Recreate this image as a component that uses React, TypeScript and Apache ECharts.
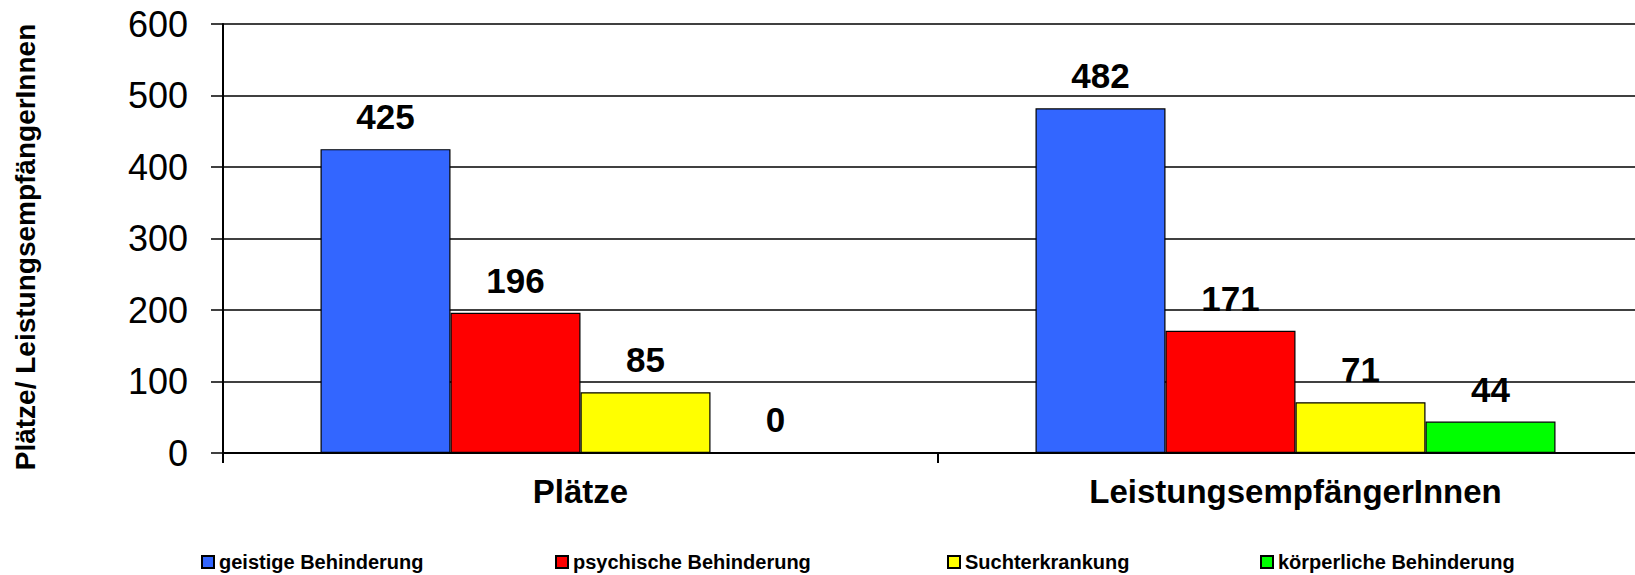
import React, { useEffect, useRef } from "react";
import * as echarts from "echarts";

const categories = ["Plätze", "LeistungsempfängerInnen"];
const seriesNames = [
  "geistige Behinderung",
  "psychische Behinderung",
  "Suchterkrankung",
  "körperliche Behinderung",
];
const geistige = [425, 482];
const psychische = [196, 171];
const sucht = [85, 71];
const koerperlich = [0, 44];
const yTicks = [0, 100, 200, 300, 400, 500, 600];
const yTitle = "Plätze/ LeistungsempfängerInnen";

const colors = ["#3366FF", "#FF0000", "#FFFF00", "#00FF00"];
const FONT = "'Liberation Sans', Arial, sans-serif";

export default function App() {
  const ref = useRef<HTMLDivElement>(null);
  useEffect(() => {
    if (!ref.current) return;
    const chart = echarts.init(ref.current, undefined, { renderer: "svg" });
    const values = [geistige, psychische, sucht, koerperlich];
    const yMin = yTicks[0];
    const yMax = yTicks[yTicks.length - 1];
    const series = values.map((vals, si) => ({
      type: "bar",
      name: seriesNames[si],
      data: vals,
      barWidth: 130,
      barGap: "0%",
      itemStyle: { color: colors[si], borderColor: "#000", borderWidth: 1.2 },
      label: {
        show: true,
        position: "top",
        distance: 15,
        fontSize: 35,
        fontWeight: "bold",
        fontFamily: FONT,
        color: "#000",
      },
    }));
    const legendLefts = [201, 555, 947, 1260];
    chart.setOption({
      animation: false,
      backgroundColor: "#fff",
      textStyle: { fontFamily: FONT },
      grid: {
        left: 223,
        width: 1430,
        top: 24,
        height: 429,
        containLabel: false,
        outerBoundsMode: "none",
      },
      legend: seriesNames.map((n, i) => ({
        data: [n],
        left: legendLefts[i],
        top: 552,
        padding: 0,
        itemWidth: 12,
        itemHeight: 12,
        icon: "rect",
        selectedMode: false,
        textStyle: { fontSize: 20, fontWeight: "bold", color: "#000", fontFamily: FONT },
      })),
      graphic: [
        {
          type: "text",
          x: 25,
          y: 247,
          rotation: Math.PI / 2,
          style: {
            text: yTitle,
            fontSize: 28,
            fontWeight: "bold",
            fill: "#000",
            fontFamily: FONT,
            align: "center",
            verticalAlign: "middle",
          },
        },
      ],
      xAxis: {
        type: "category",
        data: categories,
        axisLine: { show: true, lineStyle: { color: "#000", width: 2 } },
        axisTick: { show: true, length: 10, lineStyle: { color: "#000", width: 2 } },
        axisLabel: {
          fontSize: 33,
          fontWeight: "bold",
          color: "#000",
          margin: 22,
          fontFamily: FONT,
        },
        z: 5,
      },
      yAxis: {
        type: "value",
        min: yMin,
        max: yMax,
        interval: 100,
        axisLine: { show: true, lineStyle: { color: "#000", width: 2 } },
        axisTick: { show: true, length: 12, lineStyle: { color: "#000", width: 1.5 } },
        axisLabel: { fontSize: 36, color: "#000", margin: 35, fontFamily: FONT },
        splitLine: { show: true, lineStyle: { color: "#000", width: 1.5 } },
      },
      series,
    });
    return () => chart.dispose();
  }, []);
  return (
    <div
      ref={ref}
      style={{ position: "fixed", left: 0, top: 0, width: 1635, height: 575, background: "#fff" }}
    />
  );
}
